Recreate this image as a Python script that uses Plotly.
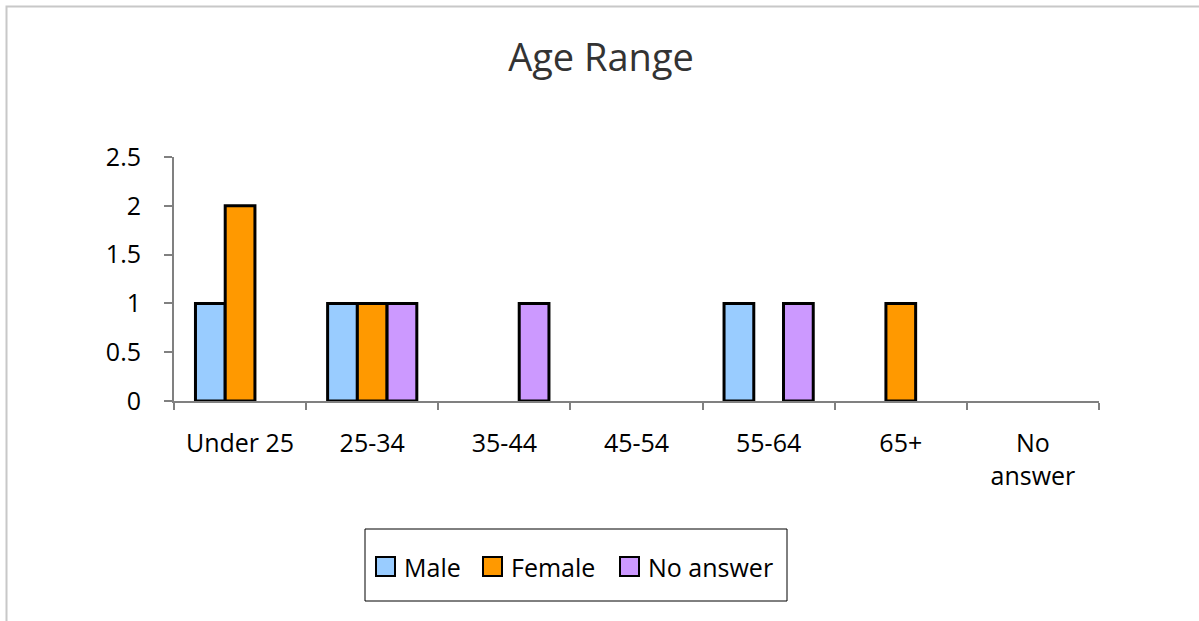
import plotly.graph_objects as go

# Survey responses by age range and gender
categories = ["Under 25", "25-34", "35-44", "45-54", "55-64", "65+", "No<br>answer"]
male = [1, 1, 0, 0, 1, 0, 0]
female = [2, 1, 0, 0, 0, 1, 0]
no_answer = [0, 1, 1, 0, 1, 0, 0]
y_ticks = [0, 0.5, 1, 1.5, 2, 2.5]

FONT = "Open Sans"
W, H = 1199, 621
L, R, T, B = 174, 100, 157, 220
PW, PH = W - L - R, H - T - B


def px_x(p):
    return (p - L) / PW


def px_y(p):
    return (H - B - p) / PH


series = [
    ("Male", male, "#99CCFF"),
    ("Female", female, "#FF9900"),
    ("No answer", no_answer, "#CC99FF"),
]

fig = go.Figure()
for name, vals, color in series:
    # empty categories get no bar at all
    fig.add_trace(go.Bar(
        x=categories, y=[v if v else None for v in vals], name=name,
        marker=dict(color=color, line=dict(color="black", width=3)),
        showlegend=False,
    ))

# legend: frame, swatches and labels
legend_left = [376, 483, 620]
shapes = [
    dict(type="rect", xref="paper", yref="paper",
         x0=px_x(365), x1=px_x(787), y0=px_y(601), y1=px_y(529),
         line=dict(color="black", width=1), fillcolor="rgba(0,0,0,0)"),
    # outer chart frame
    dict(type="rect", xref="paper", yref="paper",
         x0=px_x(6.5), x1=px_x(W + 20), y0=px_y(H + 20), y1=px_y(6.5),
         line=dict(color="#c8c8c8", width=2), fillcolor="rgba(0,0,0,0)", layer="below"),
]
annotations = []
for (name, _, color), x0 in zip(series, legend_left):
    shapes.append(dict(type="rect", xref="paper", yref="paper",
                       x0=px_x(x0), x1=px_x(x0 + 19), y0=px_y(576), y1=px_y(557),
                       line=dict(color="black", width=2), fillcolor=color))
    annotations.append(dict(text=name, xref="paper", yref="paper",
                            x=px_x(x0 + 26), y=px_y(566.5), xanchor="left", yanchor="middle",
                            showarrow=False, font=dict(size=25, color="black")))

fig.update_layout(
    width=W, height=H,
    margin=dict(l=L, r=R, t=T, b=B, pad=0),
    paper_bgcolor="white", plot_bgcolor="white",
    barmode="group", bargap=0.325, bargroupgap=0,
    font=dict(family=FONT, size=25, color="black"),
    title=dict(text="Age Range", x=601 / W, xref="container", xanchor="center",
               y=1 - 58 / H, yanchor="middle",
               font=dict(family=FONT, size=38, color="#333333")),
    xaxis=dict(
        type="category", showline=True, linecolor="#808080", linewidth=2,
        ticks="outside", tickson="boundaries", ticklen=7, tickwidth=2, tickcolor="#808080",
        ticklabelstandoff=19, showgrid=False, zeroline=False,
        tickfont=dict(size=25),
    ),
    yaxis=dict(
        range=[0, 2.5], tickvals=y_ticks, ticktext=[f"{v:g}" for v in y_ticks],
        showline=True, linecolor="#808080", linewidth=2,
        ticks="outside", ticklen=8, tickwidth=2, tickcolor="#808080",
        ticklabelstandoff=18, showgrid=False, zeroline=False,
        tickfont=dict(size=25),
    ),
    shapes=shapes,
    annotations=annotations,
)

fig.write_html("out.html")
